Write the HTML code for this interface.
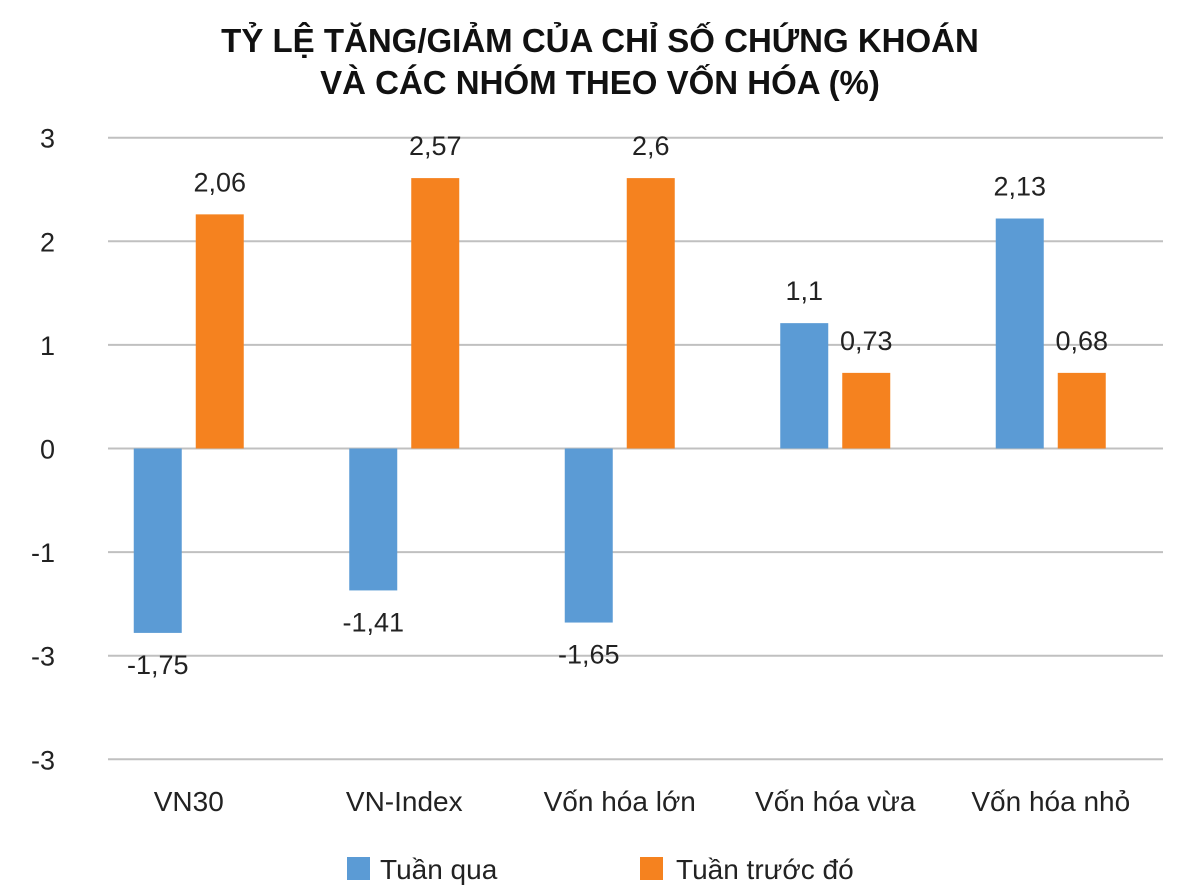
<!DOCTYPE html>
<html><head><meta charset="utf-8"><style>
body{margin:0;background:#fff;}
svg text{font-family:"Liberation Sans",sans-serif;}
</style></head><body>
<svg id="chart" width="1200" height="887">
<text x="600" y="52" text-anchor="middle" font-size="33" font-weight="bold" fill="#111">TỶ LỆ TĂNG/GIẢM CỦA CHỈ SỐ CHỨNG KHOÁN</text>
<text x="600" y="94" text-anchor="middle" font-size="33" font-weight="bold" fill="#111">VÀ CÁC NHÓM THEO VỐN HÓA (%)</text>
<g id="grid"></g><g id="bars"></g>
<rect x="347" y="857" width="23" height="23" fill="#5b9bd5"/>
<text x="380" y="879" font-size="28" fill="#222">Tuần qua</text>
<rect x="640" y="857" width="23" height="23" fill="#f5821f"/>
<text x="676" y="879" font-size="28" fill="#222">Tuần trước đó</text>
</svg>
<script>
const categories=["VN30","VN-Index","Vốn hóa lớn","Vốn hóa vừa","Vốn hóa nhỏ"];
const seriesA=[-1.78,-1.37,-1.68,1.21,2.22];
const seriesB=[2.26,2.61,2.61,0.73,0.73];
const labelsA=["-1,75","-1,41","-1,65","1,1","2,13"];
const labelsB=["2,06","2,57","2,6","0,73","0,68"];
const tickValues=[3,2,1,0,-1,-2,-3];
const tickLabels=["3","2","1","0","-1","-3","-3"];
const NS="http://www.w3.org/2000/svg";
const y0=448.5,unit=103.6,bandStart=81,band=215.5;
const y=v=>y0-v*unit;
const bx=i=>bandStart+band*i;
function mk(tag,attrs,parent){const e=document.createElementNS(NS,tag);for(const k in attrs)e.setAttribute(k,attrs[k]);parent.appendChild(e);return e;}
const grid=document.getElementById('grid'),bars=document.getElementById('bars');
tickValues.forEach((t,i)=>{
 const l=mk('line',{x1:108,x2:1163,y1:y(t),y2:y(t),stroke:'#c0c0c0','stroke-width':2},grid);
 
 
 const tx=mk('text',{x:55,y:y(t)+10,'text-anchor':'end','font-size':27,fill:'#222'},grid);
 tx.textContent=tickLabels[i];
 
 
});
categories.forEach((c,i)=>{
 const cx=bx(i)+band/2;
 [[seriesA,labelsA,'#5b9bd5',cx-55],[seriesB,labelsB,'#f5821f',cx+7]].forEach(([s,lb,col,x])=>{
  const v=s[i];
  const r=mk('rect',{x:x,y:Math.min(y(v),y0),width:48,height:Math.abs(y(v)-y0),fill:col},bars);
  
  
  const t=mk('text',{x:x+24,y:v>=0?y(v)-23:y(v)+41,'text-anchor':'middle','font-size':27,fill:'#222'},bars);
  t.textContent=lb[i];
  
  
 });
 const ct=mk('text',{x:cx,y:811,'text-anchor':'middle','font-size':28,fill:'#222'},bars);
 ct.textContent=c;
 
 
});
</script>
</body></html>
